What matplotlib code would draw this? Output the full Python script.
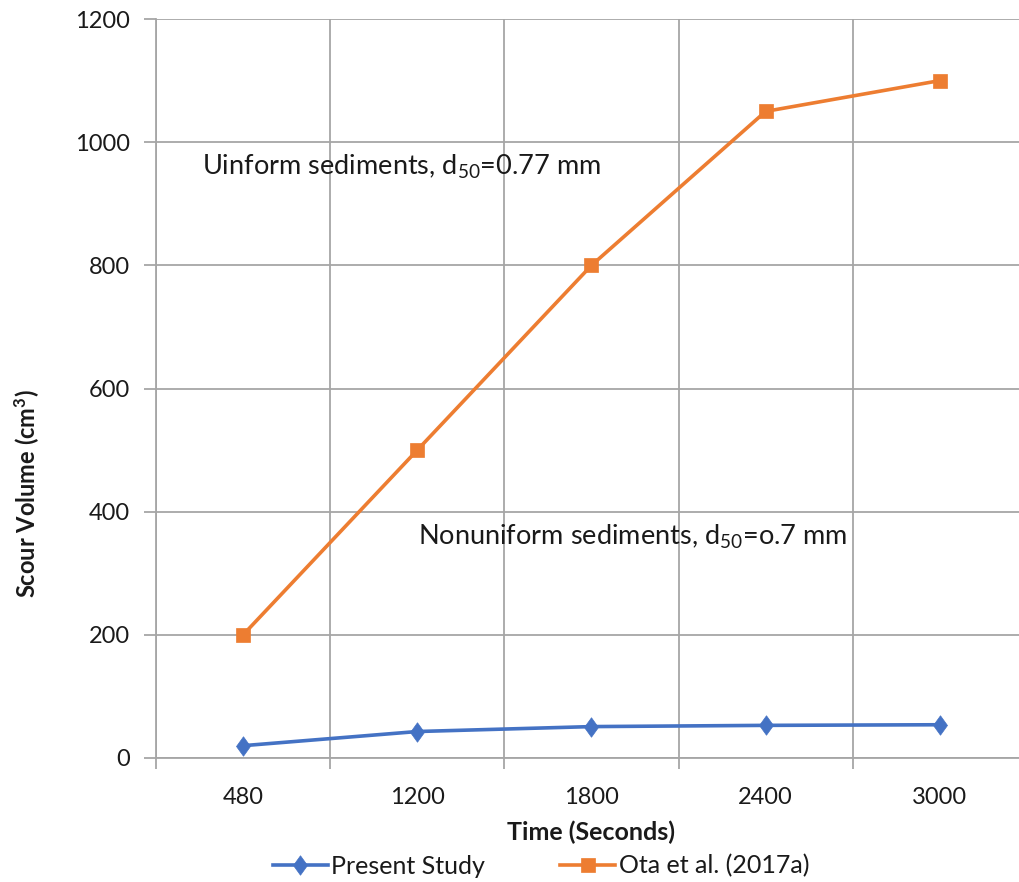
import matplotlib
matplotlib.use("Agg")
import matplotlib.pyplot as plt
from matplotlib.path import Path
import numpy as np

# Data
time_labels = ["480", "1200", "1800", "2400", "3000"]
present_study = [20, 43, 51, 53, 54]
ota_2017a = [200, 500, 800, 1050, 1100]
y_ticks = [0, 200, 400, 600, 800, 1000, 1200]

plt.rcParams["font.family"] = ["Lato", "DejaVu Sans"]
plt.rcParams["mathtext.fontset"] = "custom"
plt.rcParams["mathtext.rm"] = "Lato"
plt.rcParams["mathtext.it"] = "Lato:italic"
plt.rcParams["mathtext.bf"] = "Lato:bold"

W, H = 1020, 882
fig = plt.figure(figsize=(W / 100, H / 100), dpi=100)
left, right, bottom, top = 156, 1027, 758, 19
ax = fig.add_axes([left / W, 1 - bottom / H, (right - left) / W, (bottom - top) / H])

grid_c = "#a6a6a6"
text_c = "#1a1a1a"
x = np.arange(len(time_labels))

# Slightly wide diamond marker
diamond = Path([(0, 1), (0.72, 0), (0, -1), (-0.72, 0), (0, 1)],
               [Path.MOVETO, Path.LINETO, Path.LINETO, Path.LINETO, Path.CLOSEPOLY])

ax.plot(x, present_study, color="#4472C4", lw=2.6, marker=diamond, markersize=14,
        markeredgewidth=0.5, label="Present Study", zorder=3)
ax.plot(x, ota_2017a, color="#ED7D31", lw=2.6, marker="s", markersize=10,
        markeredgewidth=0.5, label="Ota et al. (2017a)", zorder=3)

ax.set_xlim(-0.5, len(time_labels) - 0.5)
ax.set_ylim(0, 1200)
ax.set_yticks(y_ticks)
ax.set_xticks(x)
ax.set_xticklabels(time_labels)
ax.set_xticks(np.arange(-0.5, len(time_labels)), minor=True)

ax.grid(True, which="major", axis="y", color=grid_c, lw=1.3)
ax.grid(True, which="minor", axis="x", color=grid_c, lw=1.3)
ax.grid(False, which="major", axis="x")
ax.set_axisbelow(True)

for s in ["top", "right"]:
    ax.spines[s].set_visible(False)
for s in ["left", "bottom"]:
    ax.spines[s].set_color(grid_c)
    ax.spines[s].set_linewidth(1.3)

ax.tick_params(axis="x", which="major", length=0, pad=21, labelsize=17, labelcolor=text_c)
ax.tick_params(axis="x", which="minor", length=8, width=1.3, color=grid_c)
ax.tick_params(axis="y", which="major", length=9, width=1.3, color=grid_c, pad=10,
               labelsize=17, labelcolor=text_c)

ax.text(-0.236, 960, r"Uinform sediments, d$_\mathrm{50}$=0.77 mm", fontsize=19.5,
        va="center", ha="left", color=text_c)
ax.text(1.004, 359, r"Nonuniform sediments, d$_\mathrm{50}$=o.7 mm", fontsize=19.5,
        va="center", ha="left", color=text_c)

fig.text(591 / W, 1 - 832 / H, "Time (Seconds)", fontsize=18, fontweight="bold",
         ha="center", va="center", color=text_c)
fig.text(27 / W, 1 - 494 / H, r"Scour Volume (cm$^\mathbf{3}$)", fontsize=17,
         fontweight="bold", rotation=90, ha="center", va="center", color=text_c)

fig.legend(loc="center", bbox_to_anchor=(541 / W, 1 - 866 / H), ncol=2, frameon=False,
           fontsize=18, handlelength=2.2, handletextpad=0.15, columnspacing=3.0,
           labelcolor=text_c)

fig.savefig("out.png", dpi=100)
